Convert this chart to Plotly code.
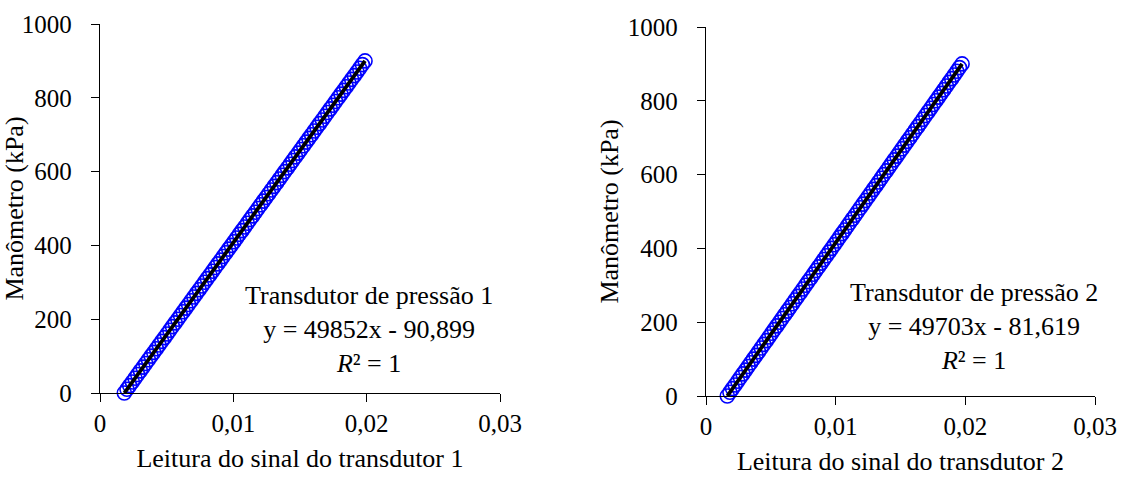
import plotly.graph_objects as go

# Pressure gauge readings (kPa) used for both transducers
pressao_kpa = [
    0, 10, 20, 30, 40, 50, 60, 70, 80, 90,
    100, 110, 120, 130, 140, 150, 160, 170, 180, 190,
    200, 210, 220, 230, 240, 250, 260, 270, 280, 290,
    300, 310, 320, 330, 340, 350, 360, 370, 380, 390,
    400, 410, 420, 430, 440, 450, 460, 470, 480, 490,
    500, 510, 520, 530, 540, 550, 560, 570, 580, 590,
    600, 610, 620, 630, 640, 650, 660, 670, 680, 690,
    700, 710, 720, 730, 740, 750, 760, 770, 780, 790,
    800, 810, 820, 830, 840, 850, 860, 870, 880, 890,
    900,
]

# Signal read from transducer 1
sinal_t1 = [
    0.001823, 0.002024, 0.002225, 0.002425, 0.002626, 0.002826, 0.003027, 0.003228, 0.003428, 0.003629,
    0.003829, 0.004030, 0.004231, 0.004431, 0.004632, 0.004832, 0.005033, 0.005233, 0.005434, 0.005635,
    0.005835, 0.006036, 0.006236, 0.006437, 0.006638, 0.006838, 0.007039, 0.007239, 0.007440, 0.007641,
    0.007841, 0.008042, 0.008242, 0.008443, 0.008644, 0.008844, 0.009045, 0.009245, 0.009446, 0.009647,
    0.009847, 0.010048, 0.010248, 0.010449, 0.010650, 0.010850, 0.011051, 0.011251, 0.011452, 0.011652,
    0.011853, 0.012054, 0.012254, 0.012455, 0.012655, 0.012856, 0.013057, 0.013257, 0.013458, 0.013658,
    0.013859, 0.014060, 0.014260, 0.014461, 0.014661, 0.014862, 0.015063, 0.015263, 0.015464, 0.015664,
    0.015865, 0.016066, 0.016266, 0.016467, 0.016667, 0.016868, 0.017069, 0.017269, 0.017470, 0.017670,
    0.017871, 0.018071, 0.018272, 0.018473, 0.018673, 0.018874, 0.019074, 0.019275, 0.019476, 0.019676,
    0.019877,
]

# Signal read from transducer 2
sinal_t2 = [
    0.001642, 0.001843, 0.002045, 0.002246, 0.002447, 0.002648, 0.002849, 0.003050, 0.003252, 0.003453,
    0.003654, 0.003855, 0.004056, 0.004258, 0.004459, 0.004660, 0.004861, 0.005062, 0.005264, 0.005465,
    0.005666, 0.005867, 0.006068, 0.006270, 0.006471, 0.006672, 0.006873, 0.007074, 0.007276, 0.007477,
    0.007678, 0.007879, 0.008080, 0.008282, 0.008483, 0.008684, 0.008885, 0.009086, 0.009288, 0.009489,
    0.009690, 0.009891, 0.010092, 0.010294, 0.010495, 0.010696, 0.010897, 0.011098, 0.011299, 0.011501,
    0.011702, 0.011903, 0.012104, 0.012305, 0.012507, 0.012708, 0.012909, 0.013110, 0.013311, 0.013513,
    0.013714, 0.013915, 0.014116, 0.014317, 0.014519, 0.014720, 0.014921, 0.015122, 0.015323, 0.015525,
    0.015726, 0.015927, 0.016128, 0.016329, 0.016531, 0.016732, 0.016933, 0.017134, 0.017335, 0.017537,
    0.017738, 0.017939, 0.018140, 0.018341, 0.018543, 0.018744, 0.018945, 0.019146, 0.019347, 0.019548,
    0.019750,
]

# Linear calibration fits (slope, intercept)
ajuste_t1 = (49852, -90.899)
ajuste_t2 = (49703, -81.619)

x_tickvals = [0, 0.01, 0.02, 0.03]
x_ticktext = ["0", "0,01", "0,02", "0,03"]
y_tickvals = [0, 200, 400, 600, 800, 1000]

FONT = "Liberation Serif"
BLUE = "#0000FF"

fig = go.Figure()


def add_panel(sinal, ajuste, xa, ya):
    fig.add_trace(go.Scatter(
        x=sinal, y=pressao_kpa, xaxis=xa, yaxis=ya, mode="markers",
        marker=dict(symbol="circle-open", size=14, color=BLUE, line=dict(width=1.6, color=BLUE)),
        cliponaxis=False, showlegend=False,
    ))
    a, b = ajuste
    xs = [sinal[0], sinal[-1]]
    fig.add_trace(go.Scatter(
        x=xs, y=[a * v + b for v in xs], xaxis=xa, yaxis=ya, mode="lines",
        line=dict(color="black", width=3.8), cliponaxis=False, showlegend=False,
    ))


add_panel(sinal_t1, ajuste_t1, "x", "y")
add_panel(sinal_t2, ajuste_t2, "x2", "y2")

axis_common = dict(
    showline=True, linecolor="black", linewidth=1.3, ticks="outside", ticklen=8,
    tickwidth=1.3, tickcolor="black", showgrid=False, zeroline=False,
    automargin=False,
    tickfont=dict(family=FONT, size=25, color="black"),
)

W, H = 1121, 477


def px_x(p):
    return p / W


def px_y(p):
    return 1 - p / H


fig.update_layout(
    width=W, height=H,
    margin=dict(l=0, r=0, t=0, b=0, autoexpand=False),
    paper_bgcolor="white", plot_bgcolor="white",
    font=dict(family=FONT, size=26, color="black"),
    xaxis=dict(domain=[px_x(100), px_x(500)], range=[0, 0.03], anchor="y",
               tickvals=x_tickvals, ticktext=x_ticktext,
               title=dict(text="Leitura do sinal do transdutor 1", font=dict(family=FONT, size=26), standoff=12),
               **axis_common),
    yaxis=dict(domain=[px_y(393), px_y(24)], range=[0, 1000], anchor="x",
               tickvals=y_tickvals, ticklabelstandoff=14,
               title=dict(text="Manômetro (kPa)", font=dict(family=FONT, size=26), standoff=1),
               **axis_common),
    xaxis2=dict(domain=[px_x(706), px_x(1095)], range=[0, 0.03], anchor="y2",
                tickvals=x_tickvals, ticktext=x_ticktext,
                title=dict(text="Leitura do sinal do transdutor 2", font=dict(family=FONT, size=26), standoff=12),
                **axis_common),
    yaxis2=dict(domain=[px_y(396), px_y(27)], range=[0, 1000], anchor="x2",
                tickvals=y_tickvals, ticklabelstandoff=14,
                title=dict(text="Manômetro (kPa)", font=dict(family=FONT, size=26), standoff=1),
                **axis_common),
)


def eq_text(nome, ajuste):
    a, b = ajuste
    sinal = "-" if b < 0 else "+"
    b_txt = f"{abs(b):.3f}".replace(".", ",")
    return f"{nome}<br>y = {a}x {sinal} {b_txt}<br><i>R</i>² = 1"


fig.add_annotation(x=px_x(369), y=px_y(329), xref="paper", yref="paper",
                   text=eq_text("Transdutor de pressão 1", ajuste_t1), showarrow=False,
                   align="center", xanchor="center", yanchor="middle",
                   font=dict(family=FONT, size=26, color="black"))
fig.add_annotation(x=px_x(974), y=px_y(326), xref="paper", yref="paper",
                   text=eq_text("Transdutor de pressão 2", ajuste_t2), showarrow=False,
                   align="center", xanchor="center", yanchor="middle",
                   font=dict(family=FONT, size=26, color="black"))

fig.write_html("out.html")
